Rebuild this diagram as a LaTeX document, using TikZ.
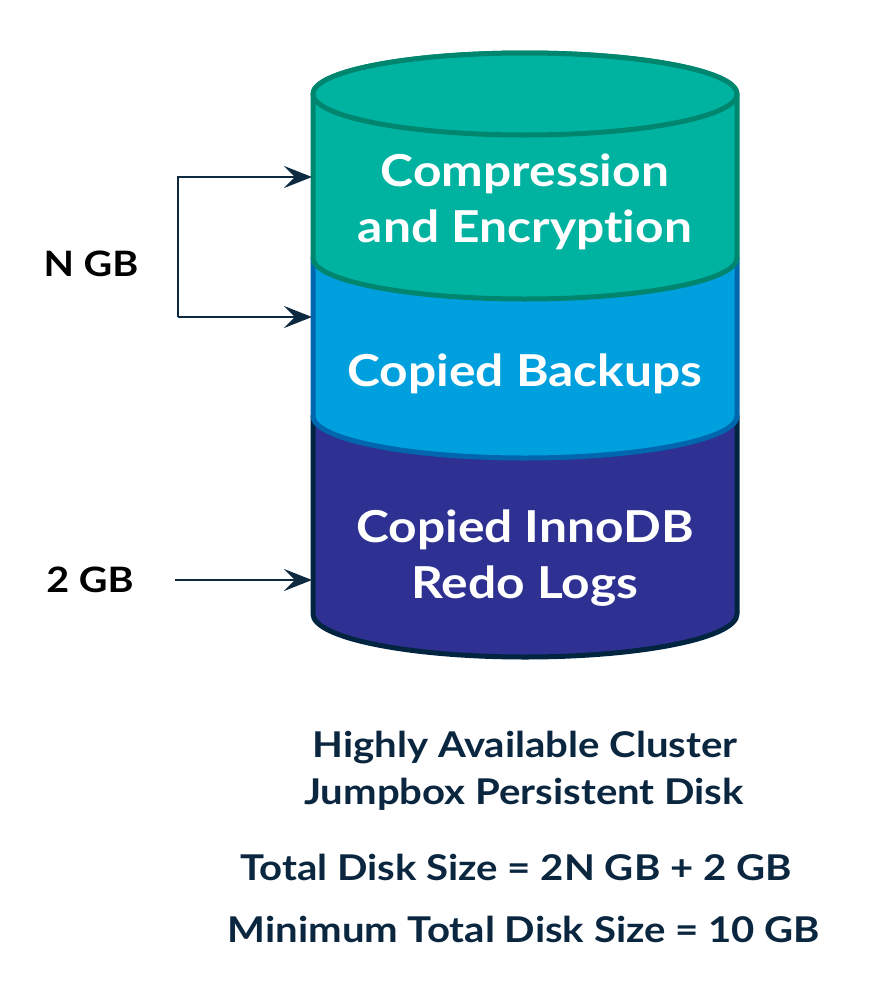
\documentclass[tikz,border=0pt]{standalone}
\usepackage{fontspec}
\setmainfont{Lato}[FakeStretch=1.13,Ligatures=NoCommon]
\usetikzlibrary{arrows.meta}
\definecolor{tealfill}{HTML}{00B3A1}
\definecolor{tealline}{HTML}{00866F}
\definecolor{bluefill}{HTML}{00A0DF}
\definecolor{blueline}{HTML}{0067AE}
\definecolor{navyfill}{HTML}{2F3192}
\definecolor{navyline}{HTML}{012541}
\definecolor{inktext}{HTML}{0B2740}
\definecolor{arrowink}{HTML}{0E2A40}
\begin{document}
\begin{tikzpicture}[x=1pt,y=1pt,
  layertext/.style={text=white,font=\bfseries\fontsize{44}{53}\selectfont,anchor=base,inner sep=0pt},
  sidetext/.style={text=black,font=\bfseries\fontsize{35}{42}\selectfont,anchor=base,inner sep=0pt},
  captext/.style={text=inktext,font=\bfseries\fontsize{35.5}{42}\selectfont,anchor=base,inner sep=0pt},
  conn/.style={draw=arrowink,line width=2.6pt,-{Stealth[length=28pt,width=22pt,inset=11pt]}},
  shell/.style={line width=5pt,line join=round}]
\useasboundingbox (0,0) rectangle (888,-999);
% navy layer
\path[shell,fill=navyfill,draw=navyline] (313,-416) -- (313,-614)
  arc[start angle=180,end angle=360,x radius=212,y radius=43] -- (737,-416) -- cycle;
% blue layer
\path[shell,fill=bluefill,draw=blueline] (313,-258) -- (313,-416)
  arc[start angle=180,end angle=360,x radius=212,y radius=42] -- (737,-258) -- cycle;
% teal layer
\path[shell,fill=tealfill,draw=tealline] (313,-94) -- (313,-258)
  arc[start angle=180,end angle=360,x radius=212,y radius=41] -- (737,-94)
  arc[start angle=0,end angle=180,x radius=212,y radius=41] -- cycle;
\path[shell,fill=tealfill,draw=tealline] (525,-94) ellipse[x radius=212,y radius=41];
% layer texts
\node[layertext] (t1a) at (525,-186) {Compression};
\node[layertext] (t1b) at (525,-242) {and Encryption};
\node[layertext] (t2) at (525,-386) {Copied Backups};
\node[layertext] (t3a) at (525,-542) {Copied InnoDB};
\node[layertext] (t3b) at (525,-598) {Redo Logs};
% side labels
\node[sidetext] (ngb) at (91,-276) {N GB};
\node[sidetext] (twogb) at (90,-592) {2 GB};
% connector anchors
\coordinate (ctop) at (312,-177);
\coordinate (cmid) at (312,-317);
\coordinate (cbot) at (312,-580);
\coordinate (bl) at (178,-177);
\coordinate (blb) at (178,-317);
\coordinate (start2) at (175,-580);
\draw[conn] (blb) -- (cmid);
\draw[conn,line join=miter] (cmid -| bl) -- (bl) -- (ctop);
\draw[conn] (start2) -- (cbot);
% captions
\node[captext] (c1) at (525,-757) {Highly Available Cluster};
\node[captext] (c2) at (524,-804) {Jumpbox Persistent Disk};
\node[captext] (c3) at (516,-880) {Total Disk Size = 2N GB + 2 GB};
\node[captext] (c4) at (524,-942) {Minimum Total Disk Size = 10 GB};
\end{tikzpicture}
\end{document}
